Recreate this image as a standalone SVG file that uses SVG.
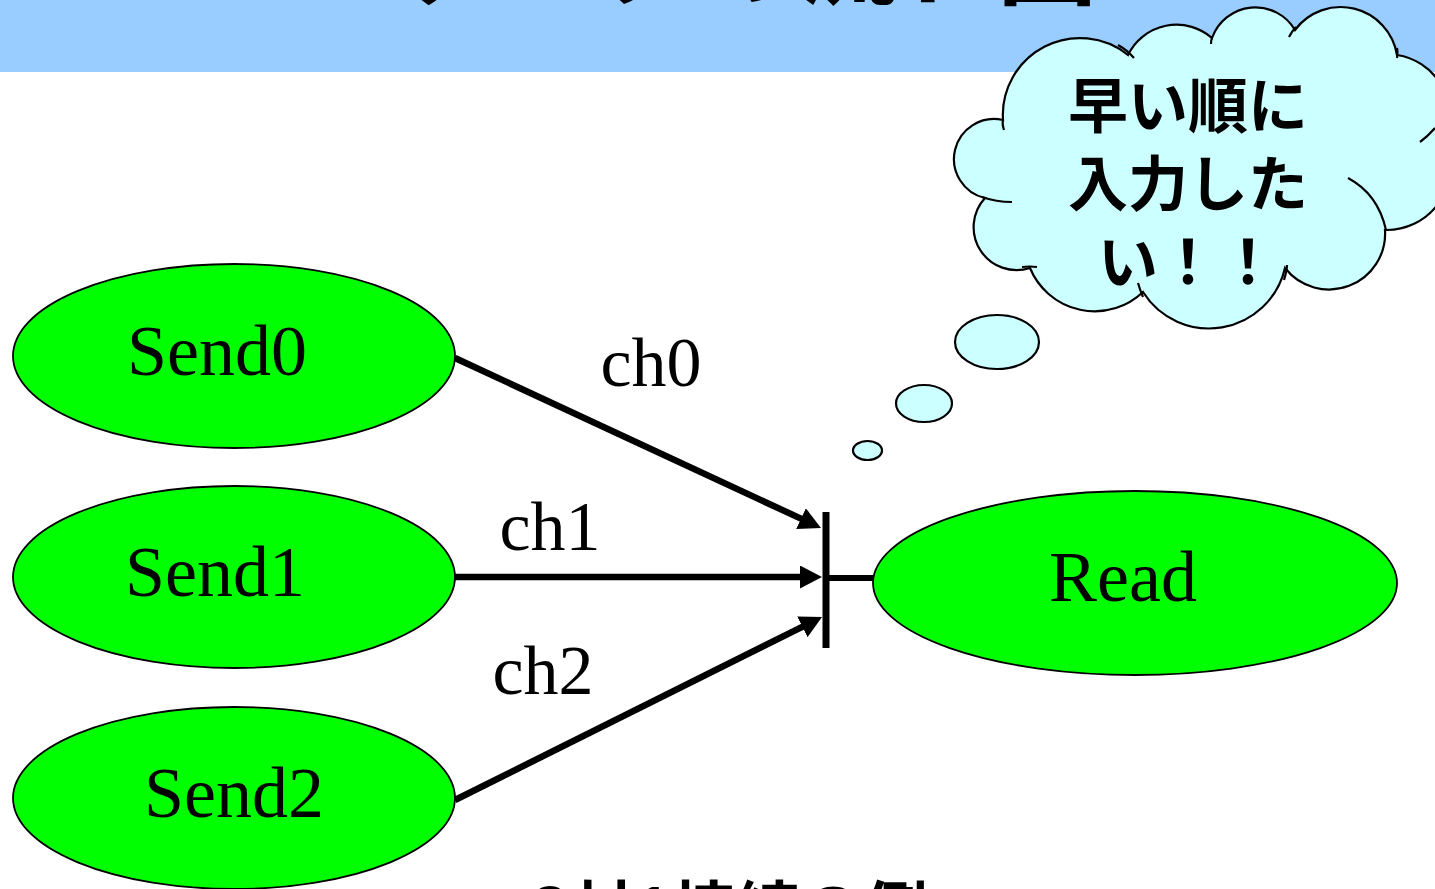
<svg xmlns="http://www.w3.org/2000/svg" width="1435" height="889" viewBox="0 0 1435 889">
<defs>
<style>
.node{fill:#00FF00;stroke:#000;stroke-width:1.8}
.lbl{font-family:"Liberation Serif","Times New Roman",serif;font-size:72px;fill:#000;text-anchor:middle}
.ch{font-family:"Liberation Serif","Times New Roman",serif;font-size:70px;fill:#000;text-anchor:middle}
.edge{stroke:#000;stroke-width:6.5;fill:none}
.jp{font-family:"Noto Sans CJK JP","Noto Sans",sans-serif;font-weight:bold;fill:#000}
.cloud{fill:#CCFFFF;stroke:#000;stroke-width:2.2}
.hook{fill:none;stroke:#000;stroke-width:2.2}
</style>
<marker id="arr" markerUnits="userSpaceOnUse" markerWidth="24" markerHeight="24" refX="10" refY="11.5" orient="auto">
<path d="M0,0 L22,11.5 L0,23 z" fill="#000"/>
</marker>
</defs>
<rect id="titlebar" x="0" y="0" width="1435" height="72" fill="#99CCFF"/>
<text class="jp" x="1097" y="-3" font-size="100" text-anchor="end">データの流れ図</text>

<g id="connectors">
<line class="edge" x1="455" y1="358" x2="810.1" y2="522.9" marker-end="url(#arr)"/>
<line class="edge" x1="455" y1="577" x2="810" y2="577" marker-end="url(#arr)"/>
<line class="edge" x1="455" y1="800" x2="811.3" y2="622.4" marker-end="url(#arr)"/>
<line x1="826" y1="512" x2="826" y2="648" stroke="#000" stroke-width="7"/>
<line x1="826" y1="578" x2="877" y2="578" stroke="#000" stroke-width="6"/>
<text class="ch" x="651" y="386">ch0</text>
<text class="ch" x="550" y="550">ch1</text>
<text class="ch" x="543" y="694">ch2</text>
</g>

<g id="send0">
<ellipse class="node" cx="234" cy="356" rx="221" ry="92"/>
<text class="lbl" x="217" y="375">Send0</text>
</g>
<g id="send1">
<ellipse class="node" cx="234" cy="577" rx="221" ry="91"/>
<text class="lbl" x="215" y="596">Send1</text>
</g>
<g id="send2">
<ellipse class="node" cx="234" cy="798" rx="221" ry="91"/>
<text class="lbl" x="234" y="817">Send2</text>
</g>
<g id="read">
<ellipse class="node" cx="1135" cy="583" rx="262" ry="92"/>
<text class="lbl" x="1123" y="601">Read</text>
</g>

<g id="thought">
<ellipse class="cloud" cx="867.5" cy="450.5" rx="14.5" ry="9.5"/>
<ellipse class="cloud" cx="924" cy="403.5" rx="28" ry="18.5"/>
<ellipse class="cloud" cx="997" cy="342" rx="42" ry="27"/>
<path class="cloud" d="M1003,120 A77,77 0 0 1 1128,55 A54,54 0 0 1 1212,38 A46,46 0 0 1 1295,30 A57,57 0 0 1 1397,55 A62,62 0 0 1 1445,140 A64,64 0 0 1 1385,230 A56,56 0 0 1 1285,268 A78,78 0 0 1 1143,292 A70,70 0 0 1 1030,268 A43,43 0 0 1 985,198 A40,40 0 0 1 1003,120 Z"/>
<path class="hook" d="M1003,120 Q1002,124 1004,130"/>
<path class="hook" d="M1118,45 Q1127,50 1134,58"/>
<path class="hook" d="M1212,38 Q1211,40 1211,44"/>
<path class="hook" d="M1296,27 Q1292,31 1289,37"/>
<path class="hook" d="M1397,48 Q1398,52 1397,58"/>
<path class="hook" d="M1435,128 Q1428,136 1420,142"/>
<path class="hook" d="M1348,178 Q1378,194 1386,230"/>
<path class="hook" d="M1287,265 Q1287,270 1284,280"/>
<path class="hook" d="M1143,297 Q1140,290 1138,283"/>
<path class="hook" d="M1022,267 Q1030,266 1037,267"/>
<path class="hook" d="M982,197 Q996,202 1012,202"/>
<text class="jp" font-size="60" text-anchor="middle"><tspan x="1188" y="128">早い順に</tspan><tspan x="1188" y="206">入力した</tspan><tspan x="1188" y="284">い！！</tspan></text>
</g>

<text class="jp" x="730" y="934" font-size="64" text-anchor="middle">3対1接続の例</text>
</svg>
